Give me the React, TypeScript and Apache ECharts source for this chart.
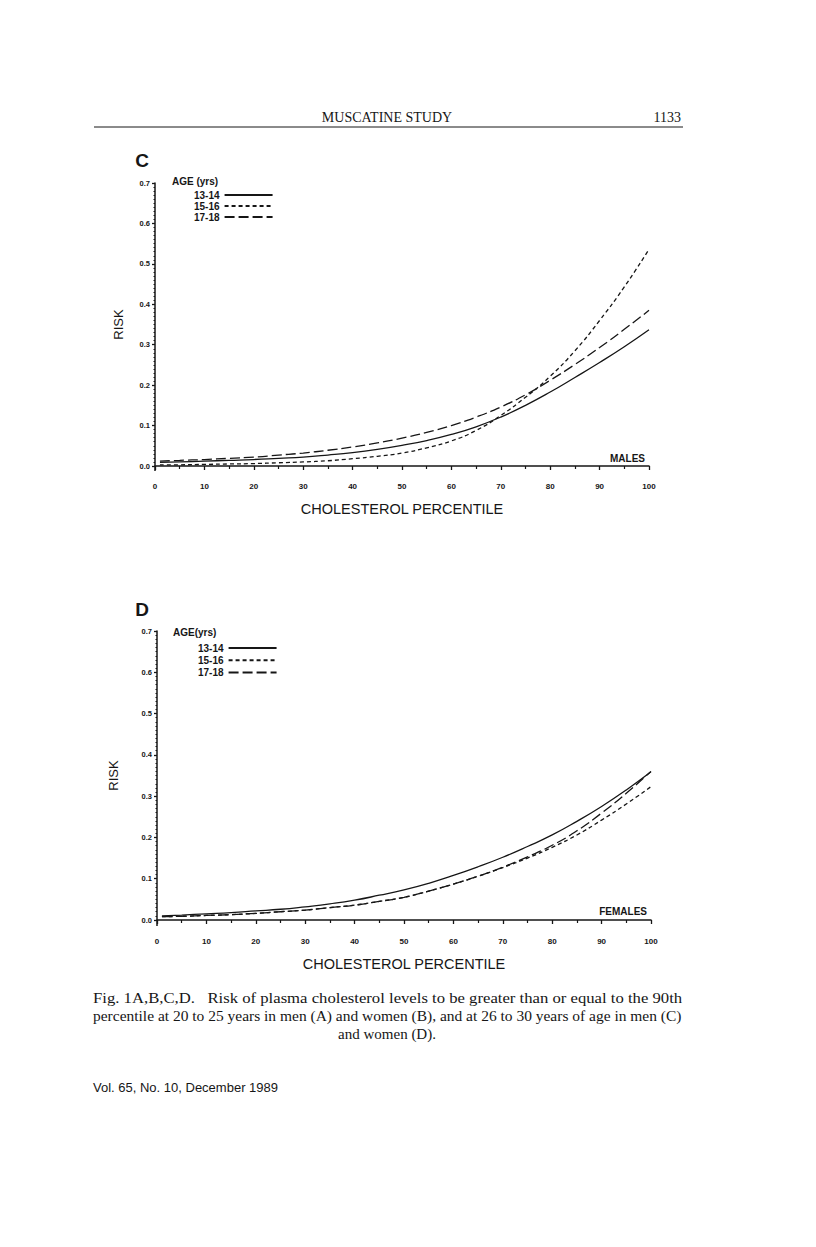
import React, { useEffect, useRef } from "react";
import * as echarts from "echarts";

// ---- data ----
const percentile = [1, 5, 10, 15, 20, 25, 30, 35, 40, 45, 50, 55, 60, 65, 70, 75, 80, 85, 90, 95, 100];
const ageGroups = ["13-14", "15-16", "17-18"];

// Panel C (males)
const maleRisk1314 = [0.009, 0.01, 0.012, 0.014, 0.016, 0.019, 0.022, 0.027, 0.033, 0.041, 0.051, 0.063, 0.078, 0.097, 0.121, 0.15, 0.183, 0.219, 0.256, 0.295, 0.337];
const maleRisk1516 = [0.003, 0.003, 0.004, 0.005, 0.006, 0.008, 0.01, 0.013, 0.018, 0.024, 0.032, 0.045, 0.062, 0.088, 0.125, 0.17, 0.222, 0.285, 0.36, 0.443, 0.536];
const maleRisk1718 = [0.012, 0.014, 0.016, 0.019, 0.022, 0.027, 0.032, 0.039, 0.047, 0.057, 0.069, 0.083, 0.1, 0.121, 0.146, 0.176, 0.212, 0.251, 0.293, 0.338, 0.385];

// Panel D (females)
const femaleRisk1314 = [0.01, 0.012, 0.015, 0.018, 0.022, 0.026, 0.032, 0.039, 0.048, 0.06, 0.073, 0.089, 0.108, 0.129, 0.152, 0.178, 0.206, 0.239, 0.275, 0.315, 0.359];
const femaleRisk1516 = [0.008, 0.009, 0.011, 0.013, 0.016, 0.02, 0.024, 0.03, 0.036, 0.045, 0.055, 0.07, 0.087, 0.106, 0.127, 0.15, 0.176, 0.206, 0.242, 0.281, 0.323];
const femaleRisk1718 = [0.008, 0.009, 0.011, 0.013, 0.016, 0.02, 0.024, 0.03, 0.036, 0.045, 0.055, 0.07, 0.087, 0.106, 0.128, 0.153, 0.181, 0.216, 0.259, 0.307, 0.36];

const xMin = 0, xMax = 100, xStep = 10;
const yMin = 0, yMax = 0.7, yStep = 0.1;

const captionLines = [
  "Fig. 1A,B,C,D.   Risk of plasma cholesterol levels to be greater than or equal to the 90th",
  "percentile at 20 to 25 years in men (A) and women (B), and at 26 to 30 years of age in men (C)",
  "and women (D).",
];

const INK = "#161616";
const SANS = "Liberation Sans";
const SERIF = "Liberation Serif";
const dashTypes: any[] = ["solid", [4, 3], [10, 4]];

function pairs(vals: number[]) {
  return percentile.map((p, i) => [p, vals[i]]);
}

function xAxisFor(gridIndex: number, offset: number) {
  return {
    type: "value",
    gridIndex,
    min: xMin,
    max: xMax,
    interval: xStep,
    offset,
    name: "CHOLESTEROL PERCENTILE",
    nameLocation: "middle",
    nameGap: 30,
    nameTextStyle: { fontFamily: SANS, fontSize: 14.5, color: INK },
    axisLine: { show: true, lineStyle: { color: INK, width: 1.5 } },
    axisTick: { show: true, length: 4, lineStyle: { color: INK, width: 1.3 } },
    minorTick: { show: true, splitNumber: 2, length: 3, lineStyle: { color: INK, width: 1.2 } },
    axisLabel: { fontFamily: SANS, fontWeight: "bold", fontSize: 8, color: INK, margin: 11 },
    splitLine: { show: false },
    minorSplitLine: { show: false },
  };
}

function yAxisFor(gridIndex: number, nameGap: number) {
  return {
    type: "value",
    gridIndex,
    min: yMin,
    max: yMax,
    interval: yStep,
    name: "RISK",
    nameLocation: "middle",
    nameGap,
    nameTextStyle: { fontFamily: SANS, fontSize: 13, color: INK },
    axisLine: { show: true, lineStyle: { color: INK, width: 1.5 } },
    axisTick: { show: true, length: 3, lineStyle: { color: INK, width: 1.3 } },
    minorTick: { show: true, splitNumber: 10, length: 1.5, lineStyle: { color: INK, width: 1 } },
    axisLabel: {
      fontFamily: SANS,
      fontWeight: "bold",
      fontSize: 7.5,
      color: INK,
      margin: 5,
      formatter: (v: number) => v.toFixed(1),
    },
    splitLine: { show: false },
    minorSplitLine: { show: false },
  };
}

function seriesFor(idx: number, sets: number[][]) {
  return sets.map((vals, k) => ({
    type: "line",
    name: ageGroups[k],
    xAxisIndex: idx,
    yAxisIndex: idx,
    data: pairs(vals),
    smooth: 0.5,
    symbol: "none",
    showSymbol: false,
    color: INK,
    itemStyle: { color: INK },
    lineStyle: { color: INK, width: 1.3, type: dashTypes[k] },
    z: 3,
  }));
}

function text(x: number, y: number, t: string, style: any, extra: any = {}) {
  return {
    type: "text",
    x,
    y,
    ...extra,
    style: { text: t, fill: INK, verticalAlign: "middle", ...style },
  };
}

function measure(t: string, font: string) {
  const c = document.createElement("canvas").getContext("2d");
  if (!c) return 0;
  c.font = font;
  return c.measureText(t).width;
}

export default function App() {
  const ref = useRef<HTMLDivElement>(null);
  useEffect(() => {
    if (!ref.current) return;
    const chart = echarts.init(ref.current, undefined, { renderer: "svg" });
    const captionFont = `15px "${SERIF}"`;
    const captionLeft = 93;
    const captionRight = 682;
    const stretch = (t: string) => {
      const w = measure(t, captionFont);
      return w > 0 ? (captionRight - captionLeft) / w : 1;
    };
    const legendBase = {
      orient: "vertical",
      align: "right",
      itemWidth: 48,
      itemHeight: 8,
      data: ageGroups,
      itemStyle: { opacity: 0 },
      textStyle: { fontFamily: SANS, fontWeight: "bold", fontSize: 10, lineHeight: 10, color: INK },
      selectedMode: false,
    };
    const option: any = {
      animation: false,
      backgroundColor: "#ffffff",
      grid: [
        { left: 155, top: 183, width: 494, height: 283 },
        { left: 157, top: 631, width: 494, height: 289 },
      ],
      xAxis: [xAxisFor(0, 5), xAxisFor(1, 6)],
      yAxis: [yAxisFor(0, 30), yAxisFor(1, 37)],
      legend: [
        { ...legendBase, left: 189, top: 185, itemGap: 1 },
        { ...legendBase, left: 193, top: 638, itemGap: 2.3 },
      ],
      series: [
        ...seriesFor(0, [maleRisk1314, maleRisk1516, maleRisk1718]),
        ...seriesFor(1, [femaleRisk1314, femaleRisk1516, femaleRisk1718]),
      ],
      graphic: [
        // running header
        text(387, 117, "MUSCATINE STUDY", { font: `14px "${SERIF}"`, align: "center" }),
        text(681, 117, "1133", { font: `14px "${SERIF}"`, align: "right" }),
        { type: "line", shape: { x1: 94, y1: 127, x2: 683, y2: 127 }, style: { stroke: INK, lineWidth: 1 } },
        // panel letters
        text(142, 160, "C", { font: `bold 19px "${SANS}"`, align: "center" }),
        text(142, 609, "D", { font: `bold 19px "${SANS}"`, align: "center" }),
        // legend titles
        text(172, 181, "AGE (yrs)", { font: `bold 10px "${SANS}"`, align: "left" }),
        text(173, 632, "AGE(yrs)", { font: `bold 10px "${SANS}"`, align: "left" }),
        // sex labels
        text(645, 458, "MALES", { font: `bold 10px "${SANS}"`, align: "right" }),
        text(647, 911, "FEMALES", { font: `bold 10px "${SANS}"`, align: "right" }),
        // axis corner extensions (y axis meets offset x axis)
        { type: "line", shape: { x1: 155, y1: 466, x2: 155, y2: 471 }, style: { stroke: INK, lineWidth: 1.5 } },
        { type: "line", shape: { x1: 157, y1: 920, x2: 157, y2: 926 }, style: { stroke: INK, lineWidth: 1.5 } },
        // caption
        text(captionLeft, 998, captionLines[0], { font: captionFont, align: "left" }, { scaleX: stretch(captionLines[0]) }),
        text(captionLeft, 1016, captionLines[1], { font: captionFont, align: "left" }, { scaleX: stretch(captionLines[1]) }),
        text(387, 1034, captionLines[2], { font: captionFont, align: "center" }),
        // footer
        text(93, 1087, "Vol. 65, No. 10, December 1989", { font: `13px "${SANS}"`, align: "left" }),
      ],
    };
    chart.setOption(option);
    return () => chart.dispose();
  }, []);
  return (
    <div
      ref={ref}
      style={{ position: "absolute", left: 0, top: 0, width: 816, height: 1247, background: "#fff" }}
    />
  );
}
